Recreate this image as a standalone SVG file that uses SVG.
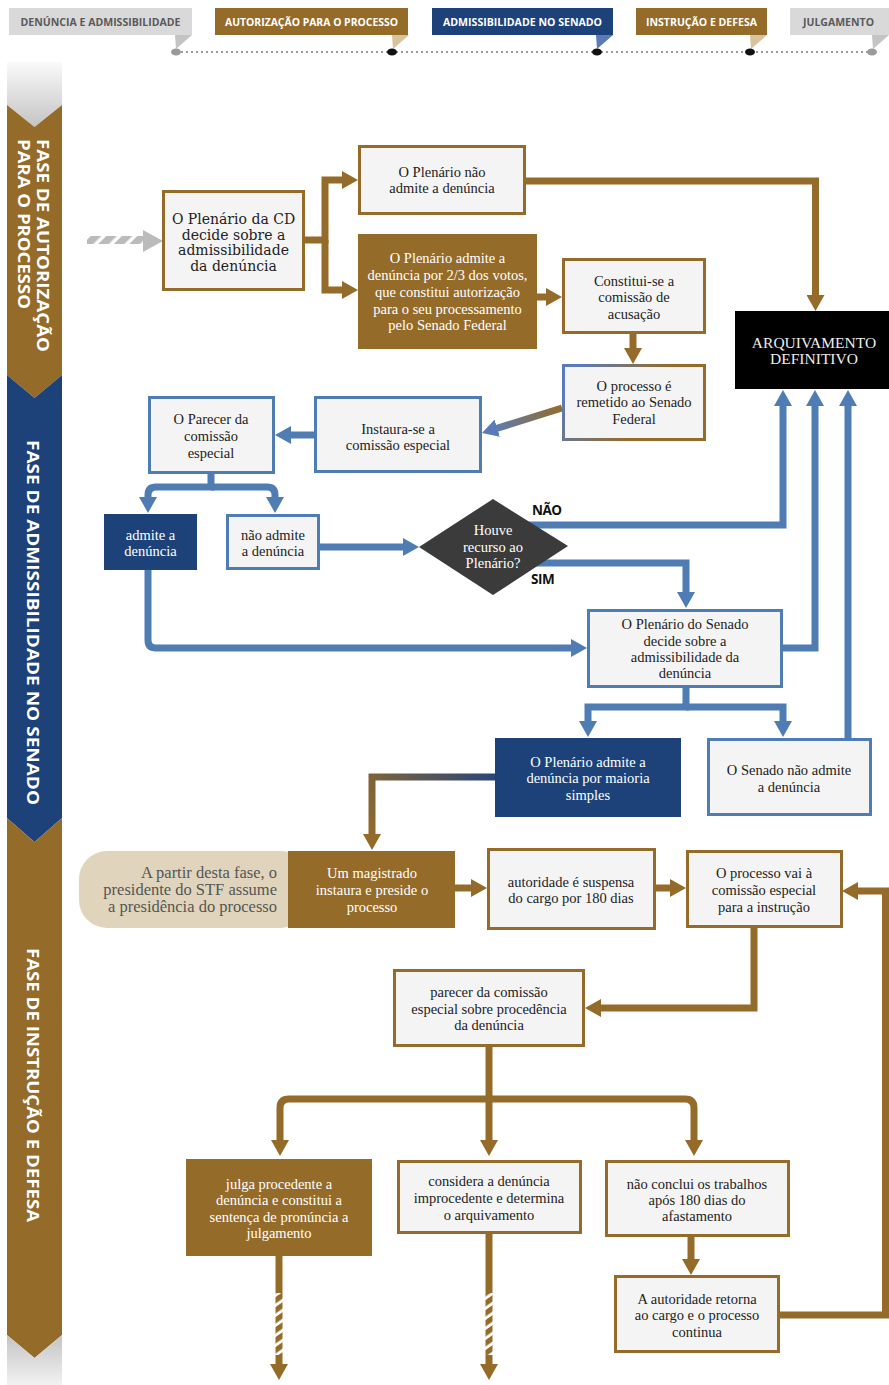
<svg xmlns="http://www.w3.org/2000/svg" width="889" height="1385" viewBox="0 0 889 1385">
<style>
.box{fill:#f4f4f4;stroke-width:3}
.sb{stroke:#956b2a}
.sl{stroke:#4f7db3}
.t{font-family:"Liberation Serif",serif;font-size:14.5px;fill:#222;text-anchor:middle}
.w{fill:#ffffff}
.cb{fill:none;stroke:#956b2a;stroke-width:7}
.cl{fill:none;stroke:#4f7db3;stroke-width:7}
.tab{font-family:"Open Sans",sans-serif;font-weight:bold;font-size:10.5px;text-anchor:middle}
.side{font-family:"Open Sans",sans-serif;font-weight:bold;font-size:16.5px;fill:#fff}
.yn{font-family:"Open Sans",sans-serif;font-weight:bold;font-size:13.5px;fill:#111;letter-spacing:-0.5px}
</style>
<defs>
<marker id="ab" markerUnits="userSpaceOnUse" markerWidth="16" markerHeight="18" viewBox="0 0 16 18" refX="6" refY="9" orient="auto"><path d="M0,0 L16,9 L0,18 z" fill="#956b2a"/></marker>
<marker id="al" markerUnits="userSpaceOnUse" markerWidth="16" markerHeight="18" viewBox="0 0 16 18" refX="6" refY="9" orient="auto"><path d="M0,0 L16,9 L0,18 z" fill="#4f7db3"/></marker>
<marker id="alb" markerUnits="userSpaceOnUse" markerWidth="16" markerHeight="18" viewBox="0 0 16 18" refX="6" refY="9" orient="auto"><path d="M0,0 L16,9 L0,18 z" fill="#5b7bb8"/></marker>
<linearGradient id="gTop" x1="0" y1="0" x2="0" y2="1"><stop offset="0" stop-color="#fafafa"/><stop offset="1" stop-color="#c4c4c4"/></linearGradient>
<linearGradient id="gBot" x1="0" y1="0" x2="0" y2="1"><stop offset="0" stop-color="#c4c4c4"/><stop offset="1" stop-color="#f2f2f2"/></linearGradient>
<linearGradient id="gBox5" x1="0" y1="0" x2="1" y2="0.3"><stop offset="0.1" stop-color="#5b7bb8"/><stop offset="0.7" stop-color="#956b2a"/></linearGradient>
<linearGradient id="gC5" gradientUnits="userSpaceOnUse" x1="562" y1="408" x2="491" y2="430"><stop offset="0" stop-color="#956b2a"/><stop offset="1" stop-color="#5b7bb8"/></linearGradient>
<linearGradient id="gC15" gradientUnits="userSpaceOnUse" x1="495" y1="777" x2="372" y2="845"><stop offset="0" stop-color="#2a4677"/><stop offset="1" stop-color="#956b2a"/></linearGradient>
<pattern id="hg" patternUnits="userSpaceOnUse" width="11" height="11" patternTransform="rotate(45)"><rect width="11" height="11" fill="#fff"/><rect width="7.5" height="11" fill="#bbbbbb"/></pattern>
<pattern id="hb" patternUnits="userSpaceOnUse" width="10" height="10" patternTransform="skewY(-35)"><rect width="10" height="10" fill="#fff"/><rect width="10" height="6.5" fill="#956b2a"/></pattern>
</defs>
<rect width="889" height="1385" fill="#ffffff"/>

<g id="timeline">
<line x1="176" y1="52" x2="872" y2="52" stroke="#9a9a9a" stroke-width="2" stroke-dasharray="2 3"/>
<g id="tab1"><rect x="9" y="8" width="183" height="27" fill="#d9d9d9"/><polygon points="175,35 192,35 176,49" fill="#c4c4c4"/><ellipse cx="176" cy="52" rx="5" ry="3.5" fill="#9a9a9a"/><text class="tab" x="100.5" y="26" fill="#5a5a5a" textLength="160" lengthAdjust="spacingAndGlyphs">DENÚNCIA E ADMISSIBILIDADE</text></g>
<g id="tab2"><rect x="215" y="8" width="193" height="27" fill="#956b2a"/><polygon points="392,35 409,35 393,49" fill="#d9c29e"/><ellipse cx="392" cy="52" rx="5" ry="3.5" fill="#111"/><text class="tab" x="311.5" y="26" fill="#fff" textLength="173" lengthAdjust="spacingAndGlyphs">AUTORIZAÇÃO PARA O PROCESSO</text></g>
<g id="tab3"><rect x="432" y="8" width="181" height="27" fill="#1d4279"/><polygon points="596,35 613,35 597,49" fill="#5b7bb8"/><ellipse cx="597" cy="52" rx="5" ry="3.5" fill="#111"/><text class="tab" x="522.5" y="26" fill="#fff" textLength="159" lengthAdjust="spacingAndGlyphs">ADMISSIBILIDADE NO SENADO</text></g>
<g id="tab4"><rect x="636" y="8" width="131" height="27" fill="#956b2a"/><polygon points="750,35 767,35 751,49" fill="#d9c29e"/><ellipse cx="750" cy="52" rx="5" ry="3.5" fill="#111"/><text class="tab" x="701.5" y="26" fill="#fff" textLength="111" lengthAdjust="spacingAndGlyphs">INSTRUÇÃO E DEFESA</text></g>
<g id="tab5"><rect x="790" y="8" width="99" height="27" fill="#d9d9d9"/><polygon points="872,35 889,35 873,49" fill="#c4c4c4"/><ellipse cx="872" cy="52" rx="5" ry="3.5" fill="#9a9a9a"/><text class="tab" x="838.5" y="26" fill="#5a5a5a" textLength="71" lengthAdjust="spacingAndGlyphs">JULGAMENTO</text></g>
</g>

<g id="sidebar">
<polygon points="7,62 62,62 62,105 34.5,127 7,105" fill="url(#gTop)"/>
<polygon points="7,105 34.5,127 62,105 62,375 34.5,398 7,375" fill="#956b2a"/>
<polygon points="7,375 34.5,398 62,375 62,818 34.5,842 7,818" fill="#1d4279"/>
<polygon points="7,818 34.5,842 62,818 62,1335 34.5,1358 7,1335" fill="#956b2a"/>
<polygon points="7,1335 34.5,1358 62,1335 62,1385 7,1385" fill="url(#gBot)"/>
<text class="side" transform="translate(37,139) rotate(90)" textLength="213" lengthAdjust="spacingAndGlyphs">FASE DE AUTORIZAÇÃO</text>
<text class="side" transform="translate(18,139) rotate(90)" textLength="170" lengthAdjust="spacingAndGlyphs">PARA O PROCESSO</text>
<text class="side" transform="translate(27,440) rotate(90)" textLength="365" lengthAdjust="spacingAndGlyphs">FASE DE ADMISSIBILIDADE NO SENADO</text>
<text class="side" transform="translate(27,948) rotate(90)" textLength="274" lengthAdjust="spacingAndGlyphs">FASE DE INSTRUÇÃO E DEFESA</text>
</g>

<g id="connectors">
<rect x="87" y="236" width="58" height="8" fill="url(#hg)"/>
<polygon points="143,230 163,241 143,252" fill="#bbbbbb"/>
<path class="cb" d="M305,240 H325 V180 H348" marker-end="url(#ab)"/>
<path class="cb" d="M325,240 V290 H348" marker-end="url(#ab)"/>
<path class="cb" d="M526,181 H815.5 V301" marker-end="url(#ab)"/>
<path class="cb" d="M537,297 H552" marker-end="url(#ab)"/>
<path class="cb" d="M633,334 V354" marker-end="url(#ab)"/>
<path d="M562,408 L491.5,430" fill="none" stroke="url(#gC5)" stroke-width="7" marker-end="url(#alb)"/>
<path class="cl" d="M314,435 H285" marker-end="url(#al)"/>
<path class="cl" d="M211,474 V487 H156 Q148,487 148,495 V503" marker-end="url(#al)"/>
<path class="cl" d="M211,487 H267 Q275,487 275,495 V503" marker-end="url(#al)"/>
<path class="cl" d="M320,547 H409" marker-end="url(#al)"/>
<path class="cl" d="M528,525 H783 V400" marker-end="url(#al)"/>
<path class="cl" d="M535,563 H686 V598" marker-end="url(#al)"/>
<path class="cl" d="M148,570 V640 Q148,648 156,648 H577" marker-end="url(#al)"/>
<path class="cl" d="M780,648 H815 V400" marker-end="url(#al)"/>
<path class="cl" d="M848,739 V400" marker-end="url(#al)"/>
<path class="cl" d="M686,688 V707 H588 V727" marker-end="url(#al)"/>
<path class="cl" d="M686,707 H783 V727" marker-end="url(#al)"/>
<path d="M495,777 H372 V840" fill="none" stroke="url(#gC15)" stroke-width="7" marker-end="url(#ab)"/>
<path class="cb" d="M455,888 H477" marker-end="url(#ab)"/>
<path class="cb" d="M655,888 H676" marker-end="url(#ab)"/>
<path class="cb" d="M779,1315 H885.5 V891 H852" marker-end="url(#ab)"/>
<path class="cb" d="M754,928 V1008 H595" marker-end="url(#ab)"/>
<path class="cb" d="M489,1046 V1146" marker-end="url(#ab)"/>
<path class="cb" d="M489,1099 H289 Q280,1099 280,1108 V1146" marker-end="url(#ab)"/>
<path class="cb" d="M489,1099 H685 Q694,1099 694,1108 V1146" marker-end="url(#ab)"/>
<path class="cb" d="M691,1237 V1265" marker-end="url(#ab)"/>
<path class="cb" d="M279,1256 V1293"/>
<rect x="275.5" y="1293" width="7" height="62" fill="url(#hb)"/>
<path class="cb" d="M279,1355 V1370" marker-end="url(#ab)"/>
<path class="cb" d="M489,1233 V1293"/>
<rect x="485.5" y="1293" width="7" height="62" fill="url(#hb)"/>
<path class="cb" d="M489,1355 V1370" marker-end="url(#ab)"/>
</g>

<g id="n-cd">
<rect class="box sb" x="163.5" y="191.5" width="140" height="98"/>
<text x="233.5" y="224" style="font-family:'DejaVu Serif',serif;font-size:14px;fill:#222;text-anchor:middle"><tspan x="233.5">O Plenário da CD</tspan><tspan x="233.5" y="239.5">decide sobre a</tspan><tspan x="233.5" y="255">admissibilidade</tspan><tspan x="233.5" y="270.5">da denúncia</tspan></text>
</g>
<g id="n-naoadmite">
<rect class="box sb" x="359.5" y="146.5" width="165" height="67"/>
<text class="t" y="177"><tspan x="442">O Plenário não</tspan><tspan x="442" y="193">admite a denúncia</tspan></text>
</g>
<g id="n-admite23">
<rect x="358" y="234" width="179" height="115" fill="#956b2a"/>
<text class="t w" y="263"><tspan x="447.5">O Plenário admite a</tspan><tspan x="447.5" y="280">denúncia por 2/3 dos votos,</tspan><tspan x="447.5" y="297">que constitui autorização</tspan><tspan x="447.5" y="314">para o seu processamento</tspan><tspan x="447.5" y="330">pelo Senado Federal</tspan></text>
</g>
<g id="n-acusacao">
<rect class="box sb" x="563.5" y="259.5" width="141" height="73"/>
<text class="t" y="286"><tspan x="634">Constitui-se a</tspan><tspan x="634" y="302">comissão de</tspan><tspan x="634" y="319">acusação</tspan></text>
</g>
<g id="n-remetido">
<rect class="box" x="563.5" y="365.5" width="141" height="74" stroke="url(#gBox5)"/>
<text class="t" y="391"><tspan x="634">O processo é</tspan><tspan x="634" y="407">remetido ao Senado</tspan><tspan x="634" y="424">Federal</tspan></text>
</g>
<g id="n-arquivamento">
<rect x="735" y="311" width="154" height="78" fill="#000"/>
<text class="t" style="font-size:15.5px;fill:#eeeeee" y="348"><tspan x="814">ARQUIVAMENTO</tspan><tspan x="814" y="364">DEFINITIVO</tspan></text>
</g>
<g id="n-instaura">
<rect class="box sl" x="315.5" y="397.5" width="165" height="74"/>
<text class="t" y="434"><tspan x="398">Instaura-se a</tspan><tspan x="398" y="450">comissão especial</tspan></text>
</g>
<g id="n-parecer">
<rect class="box sl" x="149.5" y="397.5" width="124" height="75"/>
<text class="t" y="424"><tspan x="211">O Parecer da</tspan><tspan x="211" y="441">comissão</tspan><tspan x="211" y="458">especial</tspan></text>
</g>
<g id="n-admite">
<rect x="104" y="514" width="93" height="56" fill="#1d4279"/>
<text class="t w" y="540"><tspan x="150.5">admite a</tspan><tspan x="150.5" y="556">denúncia</tspan></text>
</g>
<g id="n-naoadmite2">
<rect class="box sl" x="227.5" y="515.5" width="91" height="53"/>
<text class="t" y="540"><tspan x="273">não admite</tspan><tspan x="273" y="556">a denúncia</tspan></text>
</g>
<g id="n-recurso">
<polygon points="419,547 493,499 568,546 493,595" fill="#3b3b3b"/>
<text class="t w" y="535"><tspan x="493">Houve</tspan><tspan x="493" y="552">recurso ao</tspan><tspan x="493" y="568">Plenário?</tspan></text>
<text class="yn" x="532" y="515">NÃO</text>
<text class="yn" x="531" y="584">SIM</text>
</g>
<g id="n-senado">
<rect class="box sl" x="588.5" y="610.5" width="193" height="76"/>
<text class="t" y="629"><tspan x="685">O Plenário do Senado</tspan><tspan x="685" y="646">decide sobre a</tspan><tspan x="685" y="662">admissibilidade da</tspan><tspan x="685" y="678">denúncia</tspan></text>
</g>
<g id="n-maioria">
<rect x="495" y="738" width="186" height="79" fill="#1d4279"/>
<text class="t w" y="767"><tspan x="588">O Plenário admite a</tspan><tspan x="588" y="783">denúncia por maioria</tspan><tspan x="588" y="800">simples</tspan></text>
</g>
<g id="n-senadonao">
<rect class="box sl" x="708.5" y="739.5" width="162" height="75"/>
<text class="t" y="775"><tspan x="789">O Senado não admite</tspan><tspan x="789" y="792">a denúncia</tspan></text>
</g>
<g id="n-stf">
<rect x="79" y="851" width="230" height="77" rx="28" ry="28" fill="#e0d5bc"/>
<text class="t" style="font-size:16.5px;fill:#555;text-anchor:end" y="878"><tspan x="277">A partir desta fase, o</tspan><tspan x="277" y="895">presidente do STF assume</tspan><tspan x="277" y="912">a presidência do processo</tspan></text>
</g>
<g id="n-magistrado">
<rect x="288" y="851" width="167" height="77" fill="#956b2a"/>
<text class="t w" y="878"><tspan x="372">Um magistrado</tspan><tspan x="372" y="895">instaura e preside o</tspan><tspan x="372" y="912">processo</tspan></text>
</g>
<g id="n-suspensa">
<rect class="box sb" x="488.5" y="849.5" width="166" height="79"/>
<text class="t" y="887"><tspan x="571">autoridade é suspensa</tspan><tspan x="571" y="903">do cargo por 180 dias</tspan></text>
</g>
<g id="n-instrucao">
<rect class="box sb" x="687.5" y="851.5" width="154" height="75"/>
<text class="t" y="878"><tspan x="764">O processo vai à</tspan><tspan x="764" y="895">comissão especial</tspan><tspan x="764" y="912">para a instrução</tspan></text>
</g>
<g id="n-parecer2">
<rect class="box sb" x="394.5" y="970.5" width="189" height="75"/>
<text class="t" y="997"><tspan x="489">parecer da comissão</tspan><tspan x="489" y="1014">especial sobre procedência</tspan><tspan x="489" y="1030">da denúncia</tspan></text>
</g>
<g id="n-julga">
<rect x="186" y="1159" width="186" height="97" fill="#956b2a"/>
<text class="t w" y="1189"><tspan x="279">julga procedente a</tspan><tspan x="279" y="1205">denúncia e constitui a</tspan><tspan x="279" y="1222">sentença de pronúncia a</tspan><tspan x="279" y="1238">julgamento</tspan></text>
</g>
<g id="n-improcedente">
<rect class="box sb" x="398.5" y="1161.5" width="182" height="71"/>
<text class="t" y="1186"><tspan x="489">considera a denúncia</tspan><tspan x="489" y="1203">improcedente e determina</tspan><tspan x="489" y="1220">o arquivamento</tspan></text>
</g>
<g id="n-naoconclui">
<rect class="box sb" x="606.5" y="1161.5" width="182" height="74"/>
<text class="t" y="1189"><tspan x="697">não conclui os trabalhos</tspan><tspan x="697" y="1205">após 180 dias do</tspan><tspan x="697" y="1221">afastamento</tspan></text>
</g>
<g id="n-retorna">
<rect class="box sb" x="615.5" y="1276.5" width="163" height="75"/>
<text class="t" y="1304"><tspan x="697">A autoridade retorna</tspan><tspan x="697" y="1320">ao cargo e o processo</tspan><tspan x="697" y="1337">continua</tspan></text>
</g>
</svg>
